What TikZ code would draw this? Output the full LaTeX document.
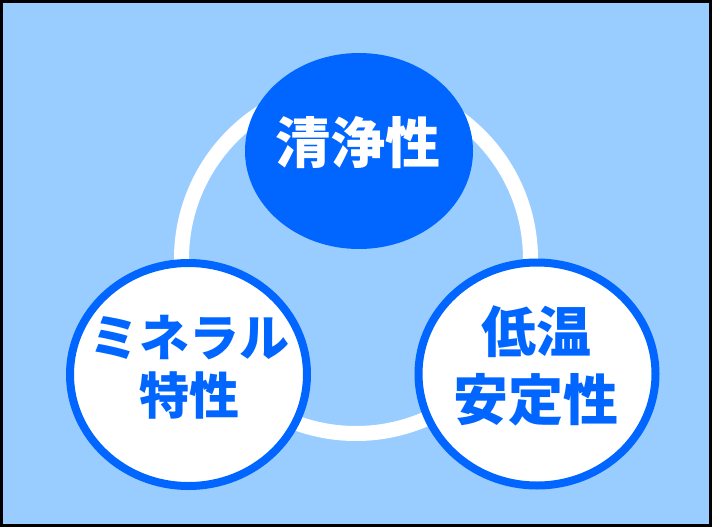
\documentclass[tikz,border=0pt]{standalone}
\usepackage{fontspec}
\newfontfamily\jp{Noto Sans CJK JP}
\usetikzlibrary{shapes.geometric}
\definecolor{bgblue}{HTML}{99CCFF}
\definecolor{mainblue}{HTML}{0066FF}
\tikzset{
  bubble/.style={ellipse, draw=mainblue, line width=8pt, fill=white, inner sep=0pt,
    minimum width=237pt, minimum height=223pt},
  topbubble/.style={ellipse, fill=mainblue, inner sep=0pt,
    minimum width=228pt, minimum height=196pt},
  lbl/.style={align=center, inner sep=0pt}
}
\begin{document}
\begin{tikzpicture}[x=1pt,y=-1pt]
\useasboundingbox (0,0) rectangle (712,527);
\fill[bgblue] (0,0) rectangle (712,527);
\draw[black, line width=3pt] (1.5,1.5) rectangle (710.5,525.5);
% ring
\coordinate (ringc) at (356,259);
\draw[white, line width=15pt] (ringc) circle[radius=174.5];
% nodes
\node[bubble] (left) at (188.5,374.5) {};
\node[bubble] (right) at (537,374) {};
\node[topbubble] (top) at (359,151) {};
% labels
\node[lbl, text=white, font={\jp\bfseries\fontsize{55pt}{60pt}\selectfont}] (toplbl) at (358,143) {清浄性};
\node[lbl, text=mainblue, font={\jp\bfseries\fontsize{50pt}{58pt}\selectfont}] (leftlbl) at (189,367) {ミネラル\\特性};
\node[lbl, text=mainblue, font={\jp\bfseries\fontsize{55pt}{68pt}\selectfont}] (rightlbl) at (536,366) {低温\\安定性};
\end{tikzpicture}
\end{document}
